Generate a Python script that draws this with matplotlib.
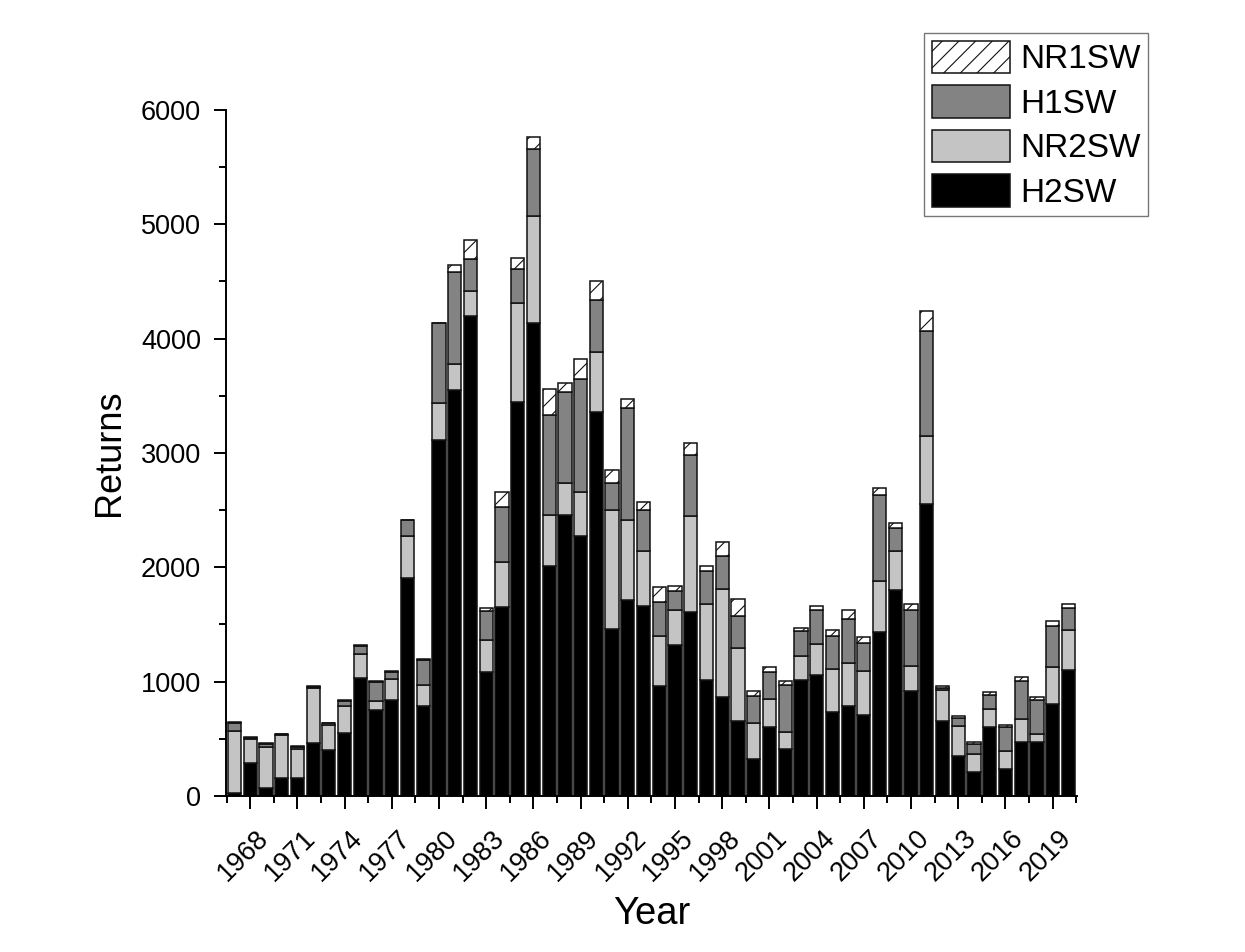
import matplotlib
matplotlib.use("Agg")
import matplotlib.pyplot as plt
import matplotlib.transforms as mtransforms
import numpy as np

plt.rcParams['font.family'] = ['Liberation Sans', 'DejaVu Sans']
plt.rcParams['hatch.linewidth'] = 0.8

years = list(range(1967, 2021))
H2SW = [25, 290, 70, 155, 155, 465, 400, 555, 1030, 750, 840, 1910, 790, 3115, 3550,
        4200, 1080, 1650, 3450, 4135, 2015, 2460, 2275, 3360, 1460, 1710, 1665, 960,
        1320, 1610, 1015, 865, 660, 325, 600, 410, 1015, 1060, 735, 785, 705, 1435,
        1800, 920, 2550, 660, 350, 213, 605, 235, 470, 470, 800, 1105]
NR2SW = [545, 205, 360, 375, 255, 475, 220, 230, 215, 80, 185, 360, 180, 320, 230,
         220, 285, 400, 865, 940, 445, 275, 380, 525, 1045, 700, 475, 435, 305, 840,
         665, 945, 630, 310, 250, 150, 210, 270, 375, 375, 390, 445, 340, 220, 600,
         265, 265, 155, 155, 160, 205, 70, 330, 345]
H1SW = [70, 15, 25, 10, 20, 15, 15, 45, 65, 170, 55, 140, 220, 700, 805, 280, 250,
        475, 295, 580, 875, 800, 990, 455, 235, 985, 365, 305, 170, 535, 290, 285,
        285, 240, 235, 410, 220, 300, 285, 385, 245, 750, 205, 490, 915, 20, 70, 90,
        125, 210, 330, 300, 360, 190]
NR1SW = [5, 5, 5, 5, 5, 5, 5, 10, 10, 5, 10, 5, 5, 5, 60, 160, 25, 135, 95, 105, 225,
         75, 175, 160, 115, 80, 70, 125, 40, 100, 40, 130, 145, 45, 45, 35, 20, 30, 55,
         80, 50, 65, 40, 45, 180, 15, 15, 15, 20, 20, 35, 25, 40, 40]

series = [("H2SW", H2SW, "#000000", None),
          ("NR2SW", NR2SW, "#c4c4c4", None),
          ("H1SW", H1SW, "#838383", None),
          ("NR1SW", NR1SW, "#ffffff", "//")]

fig = plt.figure(figsize=(12.45, 9.52), dpi=100)
ax = fig.add_axes([0.1815, 0.1639, 0.6835, 0.7206])

x = np.array(years)
bottom = np.zeros(len(years))
handles = []
for name, vals, col, hatch in series:
    v = np.array(vals, dtype=float)
    b = ax.bar(x, v, width=0.84, bottom=bottom, color=col, edgecolor="#111111",
               linewidth=1.1, hatch=hatch, label=name)
    handles.append(b)
    bottom += v

ax.set_xlim(1966.46, 2020.54)
ax.set_ylim(0, 6000)

for s in ["top", "right"]:
    ax.spines[s].set_visible(False)
for s in ["left", "bottom"]:
    ax.spines[s].set_linewidth(1.4)

ax.set_yticks(np.arange(0, 6001, 1000))
ax.set_yticks(np.arange(500, 6000, 1000), minor=True)
xt = list(range(1968, 2020, 3))
ax.set_xticks(xt)
ax.set_xticks([1966.5 + 3 * i for i in range(19)], minor=True)
ax.set_xticklabels([str(t) for t in xt], rotation=45, ha="center")

ax.tick_params(axis="both", which="major", direction="out", length=9, width=1.4,
               labelsize=19.5)
ax.tick_params(axis="both", which="minor", direction="out", length=5, width=1.4)
ax.tick_params(axis="y", which="major", pad=9)
ax.tick_params(axis="x", which="major", pad=12)

offset = mtransforms.ScaledTranslation(-7 / 100, 0, fig.dpi_scale_trans)
for lab in ax.get_xticklabels():
    lab.set_transform(lab.get_transform() + offset)

ax.set_xlabel("Year", fontsize=27.5, labelpad=7)
ax.set_ylabel("Returns", fontsize=26, labelpad=10)

leg = ax.legend(handles=handles[::-1], labels=[h.get_label() for h in handles[::-1]],
                loc="upper right", bbox_to_anchor=(0.922, 0.965),
                bbox_transform=fig.transFigure, borderaxespad=0, fontsize=24,
                frameon=True, fancybox=False, handlelength=2.35, handleheight=1.12,
                labelspacing=0.3, borderpad=0.22, handletextpad=0.3)
leg.get_frame().set_edgecolor("#555555")
leg.get_frame().set_linewidth(1.0)

fig.savefig("out.png", dpi=100, facecolor="white")
